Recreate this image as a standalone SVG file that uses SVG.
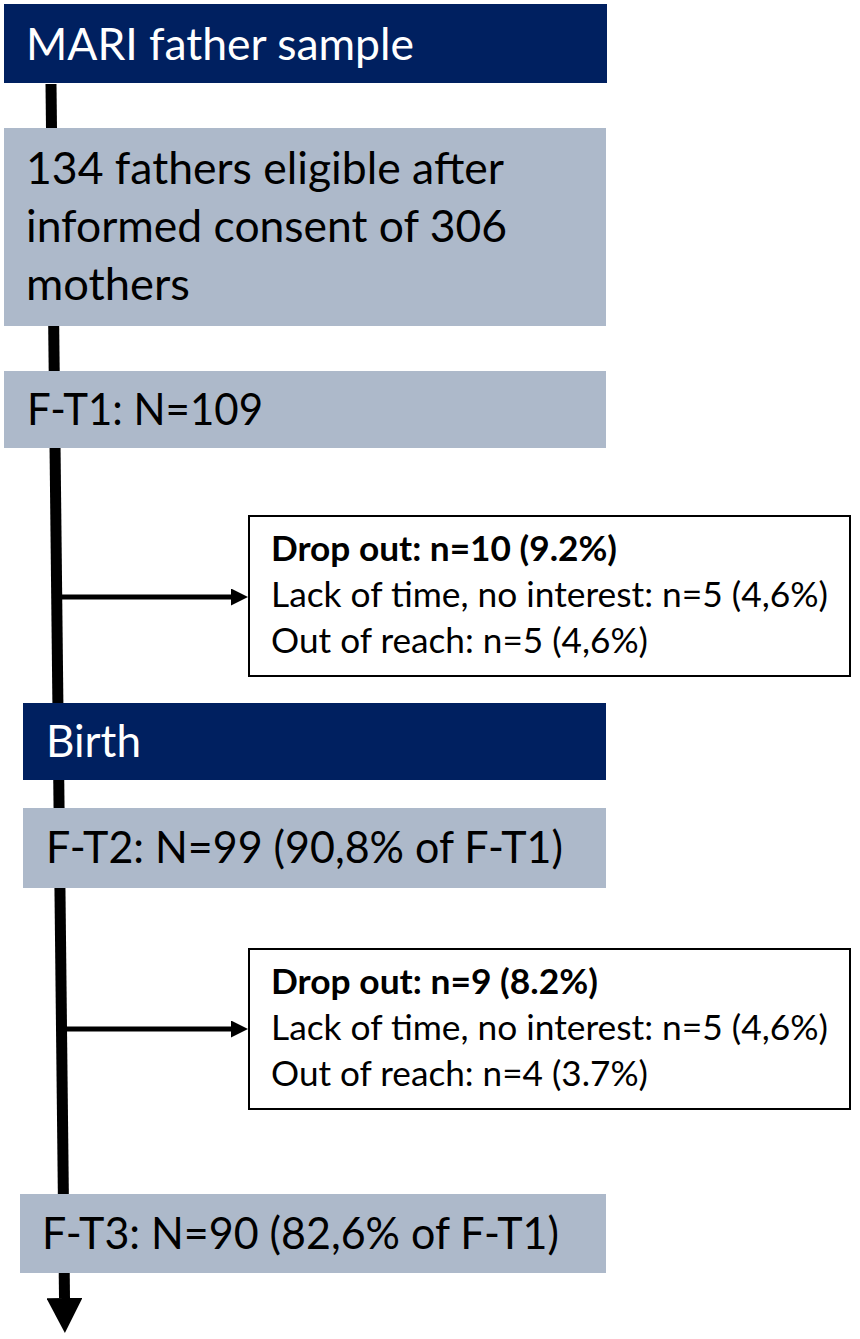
<svg xmlns="http://www.w3.org/2000/svg" width="860" height="1339" viewBox="0 0 860 1339">
  <defs>
    <style>
      .navy { fill: #002060; }
      .gray { fill: #adb9ca; }
      .drop { fill: #ffffff; stroke: #000000; stroke-width: 2; }
      .big { font-family: "Lato", "Liberation Sans", sans-serif; font-size: 44px; fill: #000000; }
      .white { fill: #ffffff; }
      .small { font-family: "Lato", "Liberation Sans", sans-serif; font-size: 34.5px; fill: #000000; }
      .bold { font-weight: bold; }
      .main { stroke: #000000; stroke-width: 11; fill: none; }
      .branch { stroke: #000000; stroke-width: 5; fill: none; }
    </style>
    <marker id="mainHead" markerUnits="userSpaceOnUse" markerWidth="36" markerHeight="36" refX="0" refY="18" orient="auto" viewBox="0 0 36 36">
      <path d="M0,0 L35,18 L0,36 Z" fill="#000000"/>
    </marker>
    <marker id="branchHead" markerUnits="userSpaceOnUse" markerWidth="17" markerHeight="17" refX="0" refY="8.5" orient="auto" viewBox="0 0 17 17">
      <path d="M0,0 L17,8.5 L0,17 Z" fill="#000000"/>
    </marker>
  </defs>

  <g id="connectors">
    <line class="main" x1="51" y1="84" x2="64.5" y2="1298" marker-end="url(#mainHead)"/>
    <line class="branch" x1="58" y1="597" x2="231" y2="597" marker-end="url(#branchHead)"/>
    <line class="branch" x1="62" y1="1029" x2="231" y2="1029" marker-end="url(#branchHead)"/>
  </g>

  <g id="node-mari">
    <rect class="navy" x="4" y="4" width="603" height="79"/>
    <text class="big white" x="26" y="60" textLength="388" lengthAdjust="spacingAndGlyphs">MARI father sample</text>
  </g>

  <g id="node-eligible">
    <rect class="gray" x="4" y="128" width="602" height="198"/>
    <text class="big" x="26" y="184" textLength="478" lengthAdjust="spacingAndGlyphs">134 fathers eligible after</text>
    <text class="big" x="26" y="242" textLength="481" lengthAdjust="spacingAndGlyphs">informed consent of 306</text>
    <text class="big" x="26" y="300" textLength="164" lengthAdjust="spacingAndGlyphs">mothers</text>
  </g>

  <g id="node-ft1">
    <rect class="gray" x="4" y="371" width="602" height="77"/>
    <text class="big" x="27" y="425" textLength="236" lengthAdjust="spacingAndGlyphs">F-T1: N=109</text>
  </g>

  <g id="node-dropout1">
    <rect class="drop" x="249" y="516" width="601" height="160"/>
    <text class="small bold" x="271" y="561" textLength="346" lengthAdjust="spacingAndGlyphs">Drop out: n=10 (9.2%)</text>
    <text class="small" x="271" y="607" textLength="557" lengthAdjust="spacingAndGlyphs">Lack of time, no interest: n=5 (4,6%)</text>
    <text class="small" x="271" y="653" textLength="377" lengthAdjust="spacingAndGlyphs">Out of reach: n=5 (4,6%)</text>
  </g>

  <g id="node-birth">
    <rect class="navy" x="23" y="703" width="583" height="77"/>
    <text class="big white" x="46" y="757" textLength="95" lengthAdjust="spacingAndGlyphs">Birth</text>
  </g>

  <g id="node-ft2">
    <rect class="gray" x="23" y="808" width="583" height="80"/>
    <text class="big" x="46" y="863" textLength="517" lengthAdjust="spacingAndGlyphs">F-T2: N=99 (90,8% of F-T1)</text>
  </g>

  <g id="node-dropout2">
    <rect class="drop" x="249" y="949" width="601" height="160"/>
    <text class="small bold" x="271" y="994" textLength="327" lengthAdjust="spacingAndGlyphs">Drop out: n=9 (8.2%)</text>
    <text class="small" x="271" y="1040" textLength="557" lengthAdjust="spacingAndGlyphs">Lack of time, no interest: n=5 (4,6%)</text>
    <text class="small" x="271" y="1086" textLength="377" lengthAdjust="spacingAndGlyphs">Out of reach: n=4 (3.7%)</text>
  </g>

  <g id="node-ft3">
    <rect class="gray" x="20" y="1194" width="586" height="79"/>
    <text class="big" x="42" y="1249" textLength="517" lengthAdjust="spacingAndGlyphs">F-T3: N=90 (82,6% of F-T1)</text>
  </g>
</svg>
